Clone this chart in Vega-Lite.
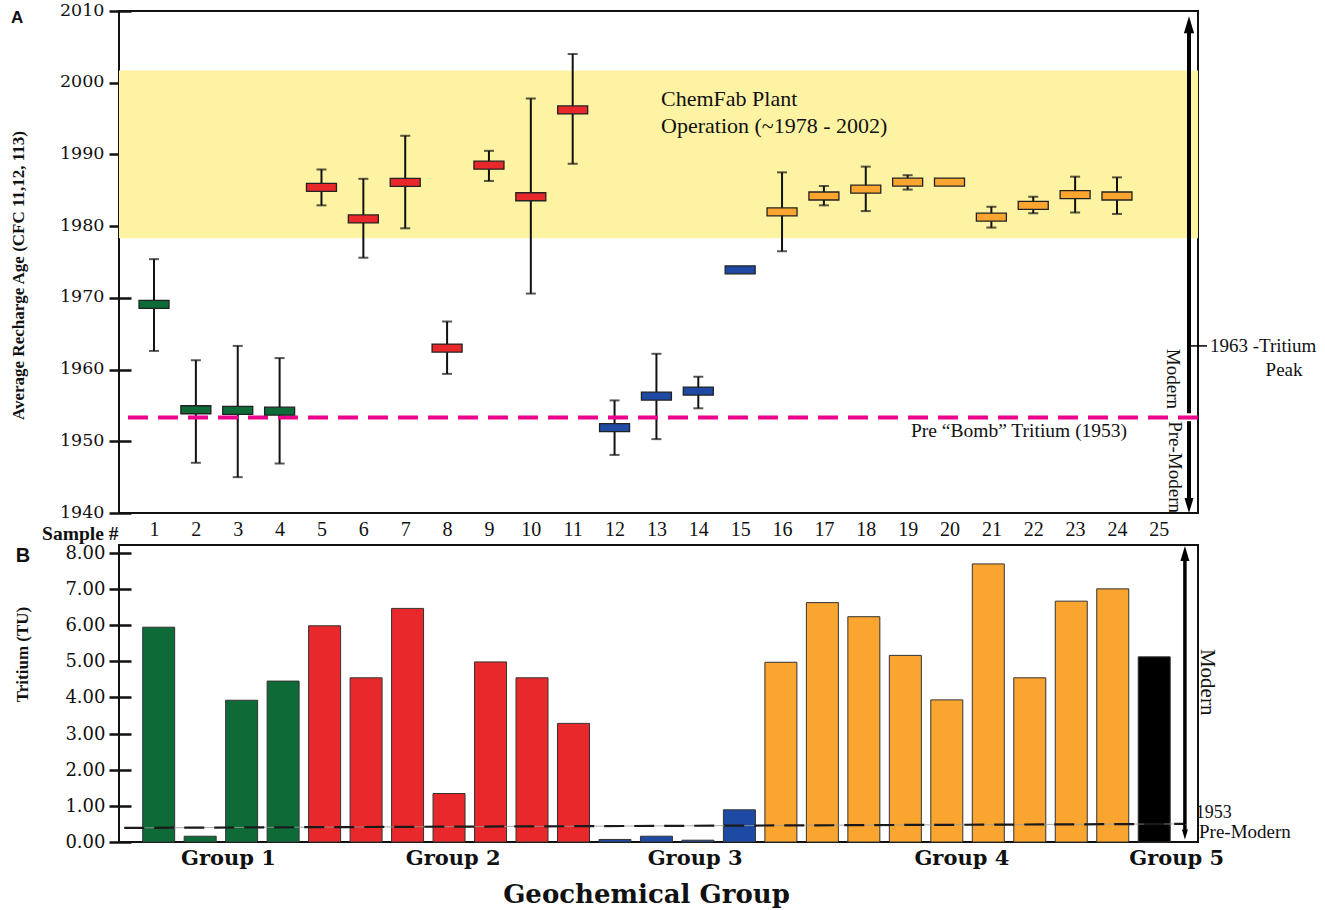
{
  "$schema": "https://vega.github.io/schema/vega-lite/v6.json",
  "padding": {"left": 7, "top": 0, "right": 0, "bottom": 0},
  "bounds": "flush",
  "spacing": 32,
  "background": "white",
  "config": {
    "view": {"stroke": "#111", "strokeWidth": 2},
    "font": "Liberation Serif",
    "axis": {"labelOverlap": false}
  },
  "datasets": {
    "samples": [
      {"s": 1, "g": "G1", "age": 1969.1, "lo": 1962.6, "hi": 1975.4, "tu": 5.94},
      {"s": 2, "g": "G1", "age": 1954.4, "lo": 1947.0, "hi": 1961.3, "tu": 0.16},
      {"s": 3, "g": "G1", "age": 1954.3, "lo": 1945.0, "hi": 1963.3, "tu": 3.92},
      {"s": 4, "g": "G1", "age": 1954.2, "lo": 1946.9, "hi": 1961.6, "tu": 4.45},
      {"s": 5, "g": "G2", "age": 1985.4, "lo": 1982.9, "hi": 1987.9, "tu": 5.98},
      {"s": 6, "g": "G2", "age": 1981.0, "lo": 1975.6, "hi": 1986.6, "tu": 4.54},
      {"s": 7, "g": "G2", "age": 1986.1, "lo": 1979.7, "hi": 1992.6, "tu": 6.46},
      {"s": 8, "g": "G2", "age": 1963.0, "lo": 1959.4, "hi": 1966.7, "tu": 1.34},
      {"s": 9, "g": "G2", "age": 1988.5, "lo": 1986.3, "hi": 1990.5, "tu": 4.98},
      {"s": 10, "g": "G2", "age": 1984.1, "lo": 1970.6, "hi": 1997.8, "tu": 4.54},
      {"s": 11, "g": "G2", "age": 1996.2, "lo": 1988.7, "hi": 2004.0, "tu": 3.28},
      {"s": 12, "g": "G3", "age": 1951.9, "lo": 1948.1, "hi": 1955.7, "tu": 0.07},
      {"s": 13, "g": "G3", "age": 1956.3, "lo": 1950.3, "hi": 1962.2, "tu": 0.16},
      {"s": 14, "g": "G3", "age": 1957.0, "lo": 1954.6, "hi": 1959.0, "tu": 0.05},
      {"s": 15, "g": "G3", "age": 1973.9, "lo": null, "hi": null, "tu": 0.89},
      {"s": 16, "g": "G4", "age": 1982.0, "lo": 1976.5, "hi": 1987.5, "tu": 4.97},
      {"s": 17, "g": "G4", "age": 1984.2, "lo": 1982.9, "hi": 1985.6, "tu": 6.62},
      {"s": 18, "g": "G4", "age": 1985.15, "lo": 1982.1, "hi": 1988.3, "tu": 6.23},
      {"s": 19, "g": "G4", "age": 1986.15, "lo": 1985.1, "hi": 1987.1, "tu": 5.16},
      {"s": 20, "g": "G4", "age": 1986.15, "lo": null, "hi": null, "tu": 3.93},
      {"s": 21, "g": "G4", "age": 1981.25, "lo": 1979.8, "hi": 1982.7, "tu": 7.69},
      {"s": 22, "g": "G4", "age": 1982.9, "lo": 1981.8, "hi": 1984.1, "tu": 4.54},
      {"s": 23, "g": "G4", "age": 1984.4, "lo": 1981.9, "hi": 1986.9, "tu": 6.66},
      {"s": 24, "g": "G4", "age": 1984.2, "lo": 1981.7, "hi": 1986.8, "tu": 7.0},
      {"s": 25, "g": "G5", "age": null, "lo": null, "hi": null, "tu": 5.12}
    ]
  },
  "vconcat": [
    {
      "width": 1079,
      "height": 502,
      "layer": [
        {
          "data": {"values": [{"start": 1978.3, "end": 2001.7}]},
          "mark": {"type": "rect", "color": "#fdf3a3"},
          "encoding": {
            "y": {
              "field": "start", "type": "quantitative",
              "scale": {"domain": [1940, 2010], "nice": false, "zero": false},
              "axis": {
                "values": [1940, 1950, 1960, 1970, 1980, 1990, 2000, 2010],
                "tickCount": 20,
                "format": "d",
                "offset": -12, "domain": false, "grid": false,
                "tickSize": 22, "tickWidth": 2.5, "tickColor": "#111",
                "labelFont": "DejaVu Serif", "labelFontSize": 17.5, "labelColor": "#111", "labelPadding": 5,
                "labelOverlap": false, "labelOffset": -1,
                "title": "Average Recharge Age (CFC 11,12, 113)",
                "titleFont": "Liberation Serif", "titleFontSize": 17, "titleFontWeight": "bold", "titleColor": "#111",
                "titleAngle": -90, "titleX": -113, "titleY": 264, "titleBaseline": "middle", "titleAlign": "center"
              }
            },
            "y2": {"field": "end"}
          }
        },
        {
          "data": {"name": "samples"},
          "mark": {"type": "rule", "color": "#111", "strokeWidth": 2},
          "encoding": {
            "x": {
              "field": "s", "type": "quantitative",
              "scale": {"domain": [0.164, 25.935], "nice": false, "zero": false},
              "axis": {
                "values": [1,2,3,4,5,6,7,8,9,10,11,12,13,14,15,16,17,18,19,20,21,22,23,24,25],
                "tickCount": 50,
                "format": "d", "ticks": false, "domain": false, "grid": false,
                "labelFont": "Liberation Serif", "labelFontSize": 20, "labelColor": "#111", "labelPadding": 6,
                "labelFlush": false, "labelOverlap": false,
                "title": "Sample #", "titleFont": "Liberation Serif", "titleFontSize": 19.5, "titleFontWeight": "bold", "titleColor": "#111",
                "titleAlign": "right", "titleX": -1, "titleY": 26.5, "titleBaseline": "alphabetic"
              }
            },
            "y": {"field": "lo", "type": "quantitative"},
            "y2": {"field": "hi"}
          }
        },
        {
          "data": {"name": "samples"},
          "mark": {"type": "tick", "orient": "horizontal", "size": 10, "thickness": 2, "color": "#111"},
          "encoding": {
            "x": {"field": "s", "type": "quantitative"},
            "y": {"field": "lo", "type": "quantitative"}
          }
        },
        {
          "data": {"name": "samples"},
          "mark": {"type": "tick", "orient": "horizontal", "size": 10, "thickness": 2, "color": "#111"},
          "encoding": {
            "x": {"field": "s", "type": "quantitative"},
            "y": {"field": "hi", "type": "quantitative"}
          }
        },
        {
          "data": {"values": [{"year": 1953.3}]},
          "mark": {"type": "rule", "color": "#ec008c", "strokeWidth": 4, "strokeDash": [20, 10]},
          "encoding": {"y": {"field": "year", "type": "quantitative"}}
        },
        {
          "data": {"name": "samples"},
          "mark": {"type": "tick", "orient": "horizontal", "size": 30, "thickness": 8, "stroke": "#222", "strokeWidth": 1.3, "opacity": 1},
          "encoding": {
            "x": {"field": "s", "type": "quantitative"},
            "y": {"field": "age", "type": "quantitative"},
            "color": {
              "field": "g", "type": "nominal",
              "scale": {"domain": ["G1", "G2", "G3", "G4", "G5"], "range": ["#0e6b38", "#e8282a", "#1f4aa3", "#f9a52f", "#000000"]},
              "legend": null
            }
          }
        },
        {
          "data": {"values": [
            {"t": "ChemFab Plant", "x": 13.11, "y": 1997.7},
            {"t": "Operation (~1978 - 2002)", "x": 13.11, "y": 1994.0}
          ]},
          "mark": {"type": "text", "font": "Liberation Serif", "fontSize": 22, "align": "left", "baseline": "middle", "color": "#111"},
          "encoding": {
            "x": {"field": "x", "type": "quantitative"},
            "y": {"field": "y", "type": "quantitative"},
            "text": {"field": "t"}
          }
        },
        {
          "data": {"values": [{"t": "Pre “Bomb” Tritium (1953)", "x": 19.08, "y": 1951.4}]},
          "mark": {"type": "text", "font": "Liberation Serif", "fontSize": 19.5, "align": "left", "baseline": "middle", "color": "#111"},
          "encoding": {
            "x": {"field": "x", "type": "quantitative"},
            "y": {"field": "y", "type": "quantitative"},
            "text": {"field": "t"}
          }
        },
        {
          "data": {"values": [{"t": "Modern", "x": 25.34, "y": 1954.5}]},
          "mark": {"type": "text", "font": "Liberation Serif", "fontSize": 19, "angle": 90, "align": "right", "baseline": "middle", "color": "#111"},
          "encoding": {
            "x": {"field": "x", "type": "quantitative"},
            "y": {"field": "y", "type": "quantitative"},
            "text": {"field": "t"}
          }
        },
        {
          "data": {"values": [{"t": "Pre-Modern", "x": 25.39, "y": 1952.8}]},
          "mark": {"type": "text", "font": "Liberation Serif", "fontSize": 19, "angle": 90, "align": "left", "baseline": "middle", "color": "#111"},
          "encoding": {
            "x": {"field": "x", "type": "quantitative"},
            "y": {"field": "y", "type": "quantitative"},
            "text": {"field": "t"}
          }
        },
        {
          "data": {"values": [{"t": "1963 -Tritium", "x": 26.22, "y": 1963.3}]},
          "mark": {"type": "text", "font": "Liberation Serif", "fontSize": 19, "align": "left", "baseline": "middle", "color": "#111"},
          "encoding": {
            "x": {"field": "x", "type": "quantitative"},
            "y": {"field": "y", "type": "quantitative"},
            "text": {"field": "t"}
          }
        },
        {
          "data": {"values": [{"t": "Peak", "x": 27.99, "y": 1959.9}]},
          "mark": {"type": "text", "font": "Liberation Serif", "fontSize": 19, "align": "center", "baseline": "middle", "color": "#111"},
          "encoding": {
            "x": {"field": "x", "type": "quantitative"},
            "y": {"field": "y", "type": "quantitative"},
            "text": {"field": "t"}
          }
        },
        {
          "data": {"values": [{"t": "A", "x": -2.27, "y": 2009.0}]},
          "mark": {"type": "text", "font": "Liberation Sans", "fontWeight": "bold", "fontSize": 17, "align": "center", "baseline": "middle", "color": "#111"},
          "encoding": {
            "x": {"field": "x", "type": "quantitative"},
            "y": {"field": "y", "type": "quantitative"},
            "text": {"field": "t"}
          }
        },
        {
          "data": {"values": [
            {"x": 25.72, "y1": 1953.9, "y2": 2007.3},
            {"x": 25.72, "y1": 1952.8, "y2": 1942.0}
          ]},
          "mark": {"type": "rule", "color": "#000", "strokeWidth": 4},
          "encoding": {
            "x": {"field": "x", "type": "quantitative"},
            "y": {"field": "y1", "type": "quantitative"},
            "y2": {"field": "y2"}
          }
        },
        {
          "data": {"values": [{"x": 25.72, "x2": 26.15, "y": 1963.3}]},
          "mark": {"type": "rule", "color": "#000", "strokeWidth": 1.5},
          "encoding": {
            "x": {"field": "x", "type": "quantitative"},
            "x2": {"field": "x2"},
            "y": {"field": "y", "type": "quantitative"}
          }
        },
        {
          "data": {"values": [{"x": 25.72, "y": 2008.1}]},
          "mark": {"type": "point", "shape": "M-0.6,1L0,-1L0.6,1Z", "size": 289, "filled": true, "color": "#000", "opacity": 1},
          "encoding": {
            "x": {"field": "x", "type": "quantitative"},
            "y": {"field": "y", "type": "quantitative"}
          }
        },
        {
          "data": {"values": [{"x": 25.72, "y": 1941.03}]},
          "mark": {"type": "point", "shape": "M-0.6,-1L0,1L0.6,-1Z", "size": 225, "filled": true, "color": "#000", "opacity": 1},
          "encoding": {
            "x": {"field": "x", "type": "quantitative"},
            "y": {"field": "y", "type": "quantitative"}
          }
        }
      ]
    },
    {
      "width": 1079,
      "height": 297,
      "layer": [
        {
          "data": {"name": "samples"},
          "mark": {"type": "bar", "orient": "vertical", "width": 32, "stroke": "#333", "strokeWidth": 1},
          "encoding": {
            "x": {
              "field": "s", "type": "quantitative",
              "scale": {"domain": [0.164, 25.935], "nice": false, "zero": false},
              "axis": {
                "values": [2.67, 8.09, 13.92, 20.35, 25.53],
                "tickCount": 20,
                "labelExpr": "datum.value < 5 ? 'Group 1' : datum.value < 10 ? 'Group 2' : datum.value < 16 ? 'Group 3' : datum.value < 23 ? 'Group 4' : 'Group 5'",
                "ticks": false, "domain": false, "grid": false,
                "labelFont": "DejaVu Serif", "labelFontWeight": "bold", "labelFontSize": 21, "labelColor": "#111", "labelPadding": 5,
                "labelFlush": false, "labelOverlap": false,
                "title": "Geochemical Group", "titleFont": "DejaVu Serif", "titleFontSize": 26, "titleFontWeight": "bold", "titleColor": "#111",
                "titleAlign": "center", "titleX": 527, "titleY": 60, "titleBaseline": "alphabetic"
              }
            },
            "y": {
              "field": "tu", "type": "quantitative", "stack": null,
              "scale": {"domain": [0, 8.213], "nice": false, "zero": true},
              "axis": {
                "values": [0, 1, 2, 3, 4, 5, 6, 7, 8],
                "tickCount": 20,
                "format": ".2f",
                "offset": -12, "domain": false, "grid": false,
                "tickSize": 22, "tickWidth": 2.5, "tickColor": "#111",
                "labelFont": "DejaVu Serif", "labelFontSize": 18, "labelColor": "#111", "labelPadding": 4,
                "labelOverlap": false, "labelOffset": 0.5,
                "title": "Tritium (TU)",
                "titleFont": "Liberation Serif", "titleFontSize": 17, "titleFontWeight": "bold", "titleColor": "#111",
                "titleAngle": -90, "titleX": -109, "titleY": 109, "titleBaseline": "middle", "titleAlign": "center"
              }
            },
            "color": {
              "field": "g", "type": "nominal",
              "scale": {"domain": ["G1", "G2", "G3", "G4", "G5"], "range": ["#0e6b38", "#e8282a", "#1f4aa3", "#f9a52f", "#000000"]},
              "legend": null
            }
          }
        },
        {
          "data": {"values": [{"x": 0.17, "y": 0.39}, {"x": 25.74, "y": 0.5}]},
          "mark": {"type": "line", "color": "#999", "strokeWidth": 0.8},
          "encoding": {
            "x": {"field": "x", "type": "quantitative"},
            "y": {"field": "y", "type": "quantitative"}
          }
        },
        {
          "data": {"values": [{"x": 0.17, "y": 0.39}, {"x": 25.74, "y": 0.5}]},
          "mark": {"type": "line", "color": "#1a1a1a", "strokeWidth": 2.2, "strokeDash": [20, 10]},
          "encoding": {
            "x": {"field": "x", "type": "quantitative"},
            "y": {"field": "y", "type": "quantitative"}
          }
        },
        {
          "data": {"values": [
            {"x": 25.74, "y1": 0.49, "y2": 7.9},
            {"x": 25.74, "y1": 0.49, "y2": 0.3}
          ]},
          "mark": {"type": "rule", "color": "#000", "strokeWidth": 3.5},
          "encoding": {
            "x": {"field": "x", "type": "quantitative"},
            "y": {"field": "y1", "type": "quantitative"},
            "y2": {"field": "y2"}
          }
        },
        {
          "data": {"values": [{"x": 25.74, "y": 7.98}]},
          "mark": {"type": "point", "shape": "M-0.6,1L0,-1L0.6,1Z", "size": 225, "filled": true, "color": "#000", "opacity": 1},
          "encoding": {
            "x": {"field": "x", "type": "quantitative"},
            "y": {"field": "y", "type": "quantitative"}
          }
        },
        {
          "data": {"values": [{"x": 25.74, "y": 0.21}]},
          "mark": {"type": "point", "shape": "M-0.6,-1L0,1L0.6,-1Z", "size": 100, "filled": true, "color": "#000", "opacity": 1},
          "encoding": {
            "x": {"field": "x", "type": "quantitative"},
            "y": {"field": "y", "type": "quantitative"}
          }
        },
        {
          "data": {"values": [{"t": "Modern", "x": 26.27, "y": 4.42}]},
          "mark": {"type": "text", "font": "Liberation Serif", "fontSize": 21, "angle": 90, "align": "center", "baseline": "middle", "color": "#111"},
          "encoding": {
            "x": {"field": "x", "type": "quantitative"},
            "y": {"field": "y", "type": "quantitative"},
            "text": {"field": "t"}
          }
        },
        {
          "data": {"values": [{"t": "1953", "x": 26.0, "y": 0.79}]},
          "mark": {"type": "text", "font": "Liberation Serif", "fontSize": 18, "align": "left", "baseline": "middle", "color": "#111"},
          "encoding": {
            "x": {"field": "x", "type": "quantitative"},
            "y": {"field": "y", "type": "quantitative"},
            "text": {"field": "t"}
          }
        },
        {
          "data": {"values": [{"t": "Pre-Modern", "x": 26.08, "y": 0.27}]},
          "mark": {"type": "text", "font": "Liberation Serif", "fontSize": 19, "align": "left", "baseline": "middle", "color": "#111"},
          "encoding": {
            "x": {"field": "x", "type": "quantitative"},
            "y": {"field": "y", "type": "quantitative"},
            "text": {"field": "t"}
          }
        },
        {
          "data": {"values": [{"t": "B", "x": -2.27, "y": 7.91}]},
          "mark": {"type": "text", "font": "Liberation Sans", "fontWeight": "bold", "fontSize": 20, "align": "center", "baseline": "middle", "color": "#111"},
          "encoding": {
            "x": {"field": "x", "type": "quantitative"},
            "y": {"field": "y", "type": "quantitative"},
            "text": {"field": "t"}
          }
        }
      ]
    }
  ]
}
